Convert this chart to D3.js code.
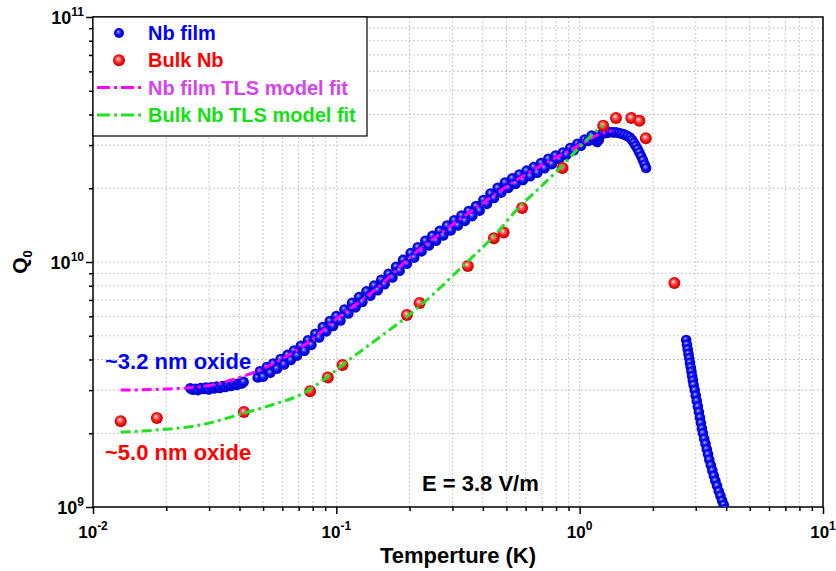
<!DOCTYPE html>
<html>
<head>
<meta charset="utf-8">
<script src="https://cdn.jsdelivr.net/npm/d3@7"></script>
<style>
  body { margin: 0; background: #fff; }
  text { font-family: "Liberation Sans", Arial, sans-serif; font-weight: bold; }
</style>
</head>
<body>
<script>
// Q0 values below are in units of 1e9
var Q_UNIT = 1e9;

// Nb film, low temperature segment
var filmLow = [
  [0.0251,3.05],[0.0257,3.01],[0.0263,3.04],[0.0270,3.00],[0.0277,3.06],[0.0284,3.03],
  [0.0291,3.07],[0.0299,3.02],[0.0307,3.08],[0.0315,3.05],[0.0323,3.10],[0.0332,3.06],
  [0.0341,3.12],[0.0350,3.09],[0.0359,3.14],[0.0369,3.12],[0.0379,3.17],[0.0389,3.15],
  [0.0399,3.20],[0.0408,3.19],[0.0416,3.24]
];

// Nb film, main rising segment and peak
var filmMain = [
  [0.0475,3.38],[0.0485,3.58],[0.050,3.40],[0.0518,3.73],[0.0535,3.53],[0.055,3.85],
  [0.057,3.67],[0.059,4.02],[0.061,3.82],[0.063,4.18],[0.065,3.98],[0.067,4.35],
  [0.069,4.15],[0.0715,4.55],[0.074,4.34],[0.0765,4.79],[0.079,4.59],[0.082,5.09],
  [0.085,4.92],[0.088,5.43],[0.091,5.21],[0.094,5.74],[0.097,5.48],[0.100,6.02],
  [0.104,5.77],[0.108,6.40],[0.112,6.16],[0.116,6.81],[0.120,6.53],[0.124,7.19],
  [0.128,6.87],[0.133,7.59],[0.138,7.29],[0.143,8.01],[0.148,7.67],[0.153,8.46],
  [0.158,8.11],[0.164,8.95],[0.170,8.64],[0.176,9.57],[0.182,9.22],[0.188,10.2],
  [0.195,9.84],[0.202,10.87],[0.209,10.42],[0.216,11.49],[0.224,11.05],[0.232,12.21],
  [0.240,11.68],[0.248,12.78],[0.257,12.21],[0.266,13.40],[0.275,12.83],[0.285,14.08],
  [0.295,13.46],[0.305,14.80],[0.316,14.09],[0.327,15.47],[0.338,14.72],[0.350,16.15],
  [0.362,15.39],[0.375,16.92],[0.388,16.21],[0.402,17.91],[0.416,17.27],[0.430,19.04],
  [0.445,18.24],[0.46,20.08],[0.476,19.20],[0.493,21.11],[0.51,20.07],[0.528,21.94],
  [0.546,20.84],[0.565,22.77],[0.585,21.62],[0.605,23.60],[0.626,22.39],[0.648,24.43],
  [0.67,23.16],[0.694,25.36],[0.718,24.13],[0.743,26.39],[0.769,25.09],[0.796,27.2],
  [0.824,26.3],[0.853,28.0],[0.883,27.4],[0.914,29.2],[0.946,28.6],[0.979,30.4],
  [1.013,29.8],[1.048,31.6],[1.085,31.2],[1.12,32.8],[1.16,31.4],[1.18,30.9],
  [1.20,31.6],[1.19,32.6],[1.22,33.1],[1.25,33.5],[1.29,33.6],[1.33,33.9],
  [1.37,33.8],[1.41,33.8],[1.45,33.6],[1.49,33.4],[1.53,33.1],[1.57,32.7],
  [1.61,32.2],[1.64,31.5],[1.67,30.7],[1.70,29.8],[1.73,28.9],[1.76,28.0],
  [1.79,27.0],[1.82,26.0],[1.85,25.0],[1.875,24.2]
];

// Nb film, high temperature drop
var filmTail = [
  [2.74,4.80],[2.76,4.60],[2.78,4.40],[2.80,4.22],[2.82,4.05],[2.84,3.88],[2.86,3.72],
  [2.88,3.57],[2.90,3.42],[2.92,3.28],[2.94,3.15],[2.97,3.00],[3.00,2.85],[3.03,2.71],
  [3.06,2.57],[3.09,2.44],[3.12,2.32],[3.15,2.20],[3.18,2.09],[3.21,2.00],[3.25,1.90],
  [3.29,1.81],[3.33,1.72],[3.37,1.64],[3.41,1.56],[3.46,1.48],[3.51,1.41],[3.56,1.34],
  [3.61,1.28],[3.67,1.22],[3.73,1.16],[3.79,1.11],[3.85,1.06],[3.91,1.02],[3.96,0.98],
  [4.02,0.94],[4.08,0.90]
];

// Bulk Nb
var bulk = [
  [0.0130,2.24],[0.0183,2.31],[0.0417,2.44],[0.078,2.97],[0.0923,3.38],[0.106,3.80],
  [0.195,6.08],[0.22,6.8],[0.347,9.64],[0.444,12.5],[0.487,13.2],[0.58,16.6],
  [0.85,24.2],[1.25,36.0],[1.41,38.7],[1.63,38.7],[1.76,37.7],[1.87,32.0],[2.45,8.2]
];

// TLS model fits
var fitFilm = [
  [0.013,3.0],[0.02,3.03],[0.025,3.07],[0.031,3.15],[0.040,3.38],[0.0485,3.62],
  [0.0587,3.98],[0.076,4.67],[0.1,5.85],[0.15,7.95],[0.2,10.4],[0.3,14.2],
  [0.4,17.4],[0.55,21.6],[0.75,25.8],[1.0,30.0],[1.2,33.2],[1.36,34.3]
];
var fitBulk = [
  [0.013,2.02],[0.018,2.06],[0.0275,2.16],[0.042,2.42],[0.055,2.62],[0.071,2.87],
  [0.092,3.4],[0.106,3.8],[0.151,4.94],[0.2,6.1],[0.243,7.2],[0.33,9.6],
  [0.442,12.7],[0.566,16.8],[0.7,20.5],[0.83,24.2],[1.0,29.5],[1.25,36.2]
];

var xDecades = [0.01, 0.1, 1, 10];
var xExps = ["-2", "-1", "0", "1"];
var yDecades = [1e9, 1e10, 1e11];
var yExps = ["9", "10", "11"];

var width = 836, height = 571;
var pL = 93, pR = 823, pT = 17, pB = 507;
var blue = "#0000ff", red = "#ff0000", magenta = "#ff00ff", green = "#22e022";
var dash = "10,4,3,4";

var x = d3.scaleLog().domain([0.01, 10]).range([pL, pR]);
var y = d3.scaleLog().domain([1e9, 1e11]).range([pB, pT]);

var svg = d3.select("body").append("svg")
  .attr("width", width).attr("height", height);

var defs = svg.append("defs");
function ball(id, stops) {
  var g = defs.append("radialGradient").attr("id", id)
    .attr("cx", "50%").attr("cy", "50%").attr("r", "55%")
    .attr("fx", "40%").attr("fy", "36%");
  stops.forEach(function(s) {
    g.append("stop").attr("offset", s[0]).attr("stop-color", s[1]);
  });
}
ball("blueBall", [["0%", "#d8e0ff"], ["18%", "#5a62ff"], ["50%", "#0a0af8"], ["100%", "#0000b8"]]);
ball("redBall", [["0%", "#fff2f2"], ["25%", "#ff7a7a"], ["60%", "#f81414"], ["100%", "#b00000"]]);
defs.append("clipPath").attr("id", "plotClip")
  .append("rect").attr("x", pL).attr("y", pT)
  .attr("width", pR - pL).attr("height", pB - pT);

// grid
var grid = svg.append("g").attr("class", "grid")
  .attr("stroke", "#c8c8c8").attr("stroke-width", 1).attr("stroke-dasharray", "2,2");
x.ticks().filter(function(t) { return t > 0.0100001 && t < 9.9999; }).forEach(function(t) {
  grid.append("line").attr("x1", x(t)).attr("x2", x(t)).attr("y1", pT).attr("y2", pB);
});
y.ticks().filter(function(t) { return t > 1.00001e9 && t < 0.99999e11; }).forEach(function(t) {
  grid.append("line").attr("x1", pL).attr("x2", pR).attr("y1", y(t)).attr("y2", y(t));
});

// axes
function isMajor(t) { return Math.abs(Math.log10(t) - Math.round(Math.log10(t))) < 1e-6; }
var xMinor = x.ticks().filter(function(t) { return !isMajor(t); });
var yMinor = y.ticks().filter(function(t) { return !isMajor(t); });

function styleAxis(g) {
  g.selectAll("path").remove();
  g.selectAll("line").attr("stroke", "#000").attr("stroke-width", 1.5);
}
svg.append("g").attr("transform", "translate(0," + pB + ")")
  .call(d3.axisBottom(x).tickValues(xMinor).tickSize(4).tickFormat("")).call(styleAxis);
svg.append("g").attr("transform", "translate(0," + pB + ")")
  .call(d3.axisBottom(x).tickValues(xDecades).tickSize(7).tickFormat("")).call(styleAxis);
svg.append("g").attr("transform", "translate(" + pL + ",0)")
  .call(d3.axisLeft(y).tickValues(yMinor).tickSize(4).tickFormat("")).call(styleAxis);
svg.append("g").attr("transform", "translate(" + pL + ",0)")
  .call(d3.axisLeft(y).tickValues(yDecades).tickSize(7).tickFormat("")).call(styleAxis);

svg.append("rect").attr("x", pL).attr("y", pT)
  .attr("width", pR - pL).attr("height", pB - pT)
  .attr("fill", "none").attr("stroke", "#000").attr("stroke-width", 1.5);

// tick labels
xDecades.forEach(function(d, i) {
  var t = svg.append("text").attr("x", x(d)).attr("y", 538)
    .attr("text-anchor", "middle").attr("font-size", 17);
  t.append("tspan").text("10");
  t.append("tspan").attr("font-size", 12).attr("dy", -8).text(xExps[i]);
});
yDecades.forEach(function(d, i) {
  var t = svg.append("text").attr("x", 84).attr("y", y(d) + 6.5)
    .attr("text-anchor", "end").attr("font-size", 18);
  t.append("tspan").text("10");
  t.append("tspan").attr("font-size", 12).attr("dy", -8).text(yExps[i]);
});

// axis titles
svg.append("text").attr("x", (pL + pR) / 2).attr("y", 563)
  .attr("text-anchor", "middle").attr("font-size", 22).text("Temperture (K)");
var yl = svg.append("text").attr("transform", "translate(27,262) rotate(-90)")
  .attr("text-anchor", "middle").attr("font-size", 21);
yl.append("tspan").text("Q");
yl.append("tspan").attr("font-size", 13).attr("dy", 5).text("0");

// data
var plot = svg.append("g").attr("clip-path", "url(#plotClip)");
var line = d3.line()
  .x(function(d) { return x(d[0]); })
  .y(function(d) { return y(d[1] * Q_UNIT); })
  .curve(d3.curveMonotoneX);

var filmAll = filmLow.concat(filmMain, filmTail);
plot.append("g").selectAll("circle").data(filmAll).enter().append("circle")
  .attr("cx", function(d) { return x(d[0]); })
  .attr("cy", function(d) { return y(d[1] * Q_UNIT); })
  .attr("r", 5.3).attr("fill", "url(#blueBall)");

plot.append("g").selectAll("circle").data(bulk).enter().append("circle")
  .attr("cx", function(d) { return x(d[0]); })
  .attr("cy", function(d) { return y(d[1] * Q_UNIT); })
  .attr("r", 6).attr("fill", "url(#redBall)");

plot.append("path").datum(fitFilm).attr("d", line)
  .attr("fill", "none").attr("stroke", magenta).attr("stroke-width", 3)
  .attr("stroke-dasharray", dash);
plot.append("path").datum(fitBulk).attr("d", line)
  .attr("fill", "none").attr("stroke", green).attr("stroke-width", 3)
  .attr("stroke-dasharray", dash);

// legend
var lg = svg.append("g");
lg.append("rect").attr("x", pL).attr("y", pT).attr("width", 274).attr("height", 119)
  .attr("fill", "#fff").attr("stroke", "#000").attr("stroke-width", 1.2);
var legendItems = [
  { label: "Nb film", color: blue, type: "blueBall" },
  { label: "Bulk Nb", color: red, type: "redBall" },
  { label: "Nb film TLS model fit", color: "#d444ee", line: magenta },
  { label: "Bulk Nb TLS model fit", color: "#14e014", line: green }
];
legendItems.forEach(function(it, i) {
  var cy = 33 + i * 27.3;
  if (it.line) {
    lg.append("line").attr("x1", 97).attr("x2", 143).attr("y1", cy).attr("y2", cy)
      .attr("stroke", it.line).attr("stroke-width", 3).attr("stroke-dasharray", "13,4,3,4");
  } else {
    lg.append("circle").attr("cx", 119).attr("cy", cy).attr("r", i === 0 ? 5 : 6)
      .attr("fill", "url(#" + it.type + ")");
  }
  lg.append("text").attr("x", 148).attr("y", cy + 7).attr("font-size", 20)
    .attr("fill", it.color).text(it.label);
});

// annotations
svg.append("text").attr("x", 105).attr("y", 369).attr("font-size", 22)
  .attr("fill", blue).text("~3.2 nm oxide");
svg.append("text").attr("x", 105).attr("y", 460).attr("font-size", 22)
  .attr("fill", red).text("~5.0 nm oxide");
svg.append("text").attr("x", 422).attr("y", 491).attr("font-size", 22)
  .attr("fill", "#000").text("E = 3.8 V/m");
</script>
</body>
</html>
